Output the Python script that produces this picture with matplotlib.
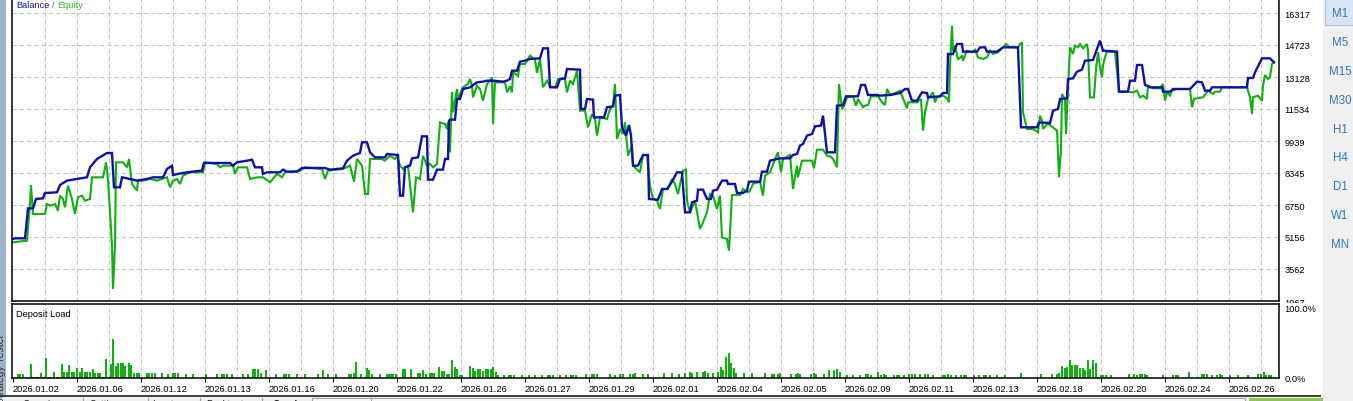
import matplotlib
matplotlib.use("Agg")
import matplotlib.pyplot as plt
from matplotlib.patches import Rectangle
from matplotlib.lines import Line2D

plt.rcParams['font.family'] = ['Liberation Sans', 'DejaVu Sans']

# ---------------- data ----------------
date_labels = ["2026.01.02", "2026.01.06", "2026.01.12", "2026.01.13", "2026.01.16",
               "2026.01.20", "2026.01.22", "2026.01.26", "2026.01.27", "2026.01.29",
               "2026.02.01", "2026.02.04", "2026.02.05", "2026.02.09", "2026.02.11",
               "2026.02.13", "2026.02.18", "2026.02.20", "2026.02.24", "2026.02.26"]
label_step = 64          # positions between two date labels
grid_step = 32           # positions between two vertical grid lines
n_positions = 1266

y_ticks = [1967, 3562, 5156, 6750, 8345, 9939, 11534, 13128, 14723, 16317]
y_top = 17015

balance_t = [0, 2, 12, 15, 20, 23, 30, 32, 44, 47, 54, 64, 74, 77, 84, 94, 99, 101, 107, 109,
             117, 124, 134, 140, 150, 154, 159, 160, 170, 179, 189, 191, 217, 220, 224, 234, 239,
             242, 249, 250, 254, 267, 270, 274, 284, 289, 312, 317, 330, 334, 340, 347, 349, 354,
             357, 362, 372, 374, 385, 387, 390, 392, 397, 399, 405, 409, 414, 415, 420, 424, 430,
             432, 435, 436,
             437, 442, 444, 447, 450, 457, 464, 470, 474, 480, 490, 494, 497, 499, 504, 507, 512,
             517, 527, 530, 535, 537, 544, 547, 552, 554, 567, 568, 572, 574, 580, 581, 591, 594,
             600, 602, 607, 609, 613, 616, 618, 620, 625, 630, 635, 636, 645, 649, 654, 659, 664,
             669, 672, 677, 679, 684, 685, 690, 694, 698, 700, 704, 709, 714, 715, 722, 724, 730,
             734, 736, 747, 749, 754, 757, 767, 777, 780, 784, 787, 790, 794, 799, 802, 808, 810,
             814, 822, 824, 830, 833, 845, 848, 852, 855, 864, 867, 877, 887,
             892, 895, 899, 904, 909, 914, 915, 927, 930, 934, 935, 940, 944, 949, 950, 964, 967,
             972, 974, 984, 990, 1005, 1008, 1024, 1026, 1037, 1040, 1045, 1047, 1054, 1055, 1060,
             1064, 1069, 1072, 1080, 1084, 1087, 1090, 1104, 1106, 1115, 1117, 1122, 1124, 1129,
             1132, 1137, 1149, 1150, 1157, 1160, 1177, 1184, 1189, 1192, 1197, 1199, 1220, 1234,
             1235, 1240, 1242, 1249, 1257, 1261]
balance_v = [5057, 5090, 5090, 6585, 6585, 7050, 7083, 7349, 7382, 7748, 7964, 8047, 8130, 8628,
             9043, 9342, 9342, 7632, 7632, 8130, 8047, 7964, 8047, 8130, 8130, 8545, 8711, 8246,
             8346, 8412, 8462, 8844, 8844, 8711, 8877, 8960, 9010, 8628, 8628, 8296, 8379, 8379,
             8512, 8412, 8412, 8595, 8595, 8512, 8578, 8960, 9209, 9342, 9874, 9874, 9375, 9126,
             9126, 9292, 9242, 7216, 7216, 8628, 8711, 9076, 9126, 10172, 10172, 8013, 8013, 8512,
             8512, 9043, 9043, 10953,
             11003, 11003, 12033, 12033, 12531, 12614, 12863, 12896, 12946, 12946, 12896, 12946,
             13029, 13444, 13444, 13893, 13942, 14026, 14059, 14557, 14557, 12614, 12614, 13029,
             13062, 13527, 13494, 11534, 11534, 12033, 11999, 11119, 11119, 11617, 11667, 12199,
             12232, 10621, 10206, 10737, 10206, 8711, 8711, 9242, 9242, 7050, 7017, 7548, 7548,
             7914, 8379, 8379, 6386, 6386, 6884, 6967, 7515, 7515, 7050, 7050, 7465, 7515, 7964,
             7964, 7798, 7798, 7349, 7349, 7465, 7914, 7914, 8412, 8412, 8960, 9076, 9076, 9242,
             9292, 9708, 9790, 10206, 10289, 10671, 10704, 11202, 9375, 9375, 11700, 11733, 12166,
             12166, 12730, 12730, 12232, 12232, 12199, 12232, 12332,
             12531, 12531, 11950, 11950, 12365, 12332, 12116, 12166, 12332, 12332, 14275, 14275,
             14773, 14773, 14391, 14391, 14607, 14607, 14391, 14391, 14607, 14607, 10621, 10621,
             10870, 10837, 11451, 11534, 12033, 12066, 13029, 13062, 13394, 13494, 13942, 13976,
             14524, 14939, 14441, 14391, 12398, 12398, 12946, 12946, 13727, 13727, 12730, 12614,
             12614, 12398, 12398, 12531, 12531, 12896, 12863, 12448, 12448, 12614, 12614, 12614,
             13079, 13079, 13361, 14059, 14059, 13859]

equity_t = [0, 14, 17, 18, 19, 20, 32, 34, 37, 42, 45, 47, 50, 52, 55, 59, 62, 65, 69, 72, 77, 79,
            90, 93, 95, 99, 100, 102, 103, 110, 114, 116, 119, 124, 125, 130, 137, 144, 149, 154,
            157, 160, 164, 167, 170, 177, 190, 192, 204, 207, 210, 220, 222, 225, 234, 237, 244,
            250, 257, 264, 269, 272, 287, 292, 309, 312, 315, 330, 337, 341, 344, 349, 352, 355,
            357, 369, 372, 377, 382, 384, 387, 390, 392, 395, 400, 403, 407, 410, 414, 417, 420,
            424, 427, 432, 434, 435, 437,
            439, 440, 444, 445, 450, 455, 457, 459, 460, 464, 467, 470, 474, 477, 479, 480, 482,
            492, 494, 497, 499, 500, 505, 507, 512, 514, 517, 522, 524, 527, 530, 534, 537, 542,
            545, 552, 554, 557, 560, 564, 567, 572, 575, 579, 582, 584, 587, 594, 597, 600, 602,
            604, 607, 610, 612, 615, 619, 620, 627, 630, 634, 637, 640, 644, 647, 650, 655, 659,
            662, 665, 670, 673, 674, 677, 682, 685, 687, 690, 694, 697, 700, 704, 707, 709, 714,
            716, 719, 727, 730, 735, 737, 740, 747, 750, 752, 757, 762, 765, 768, 770, 777, 780,
            784, 785, 789, 799, 801, 804, 810, 814, 817, 820, 824, 826, 829, 831, 834, 840, 843,
            845, 850, 852, 855, 858, 865, 869, 872, 874, 877, 884, 887,
            894, 895, 904, 908, 910, 912, 915, 920, 922, 924, 930, 934, 936, 937, 939, 940, 942,
            945, 949, 950, 954, 959, 962, 965, 970, 974, 977, 980, 985, 990, 993, 997, 1005, 1007,
            1009, 1010, 1014, 1020, 1025, 1027, 1029, 1030, 1034, 1037, 1042, 1044, 1045, 1046,
            1048, 1049, 1052, 1053, 1055, 1057, 1060, 1062, 1065, 1067, 1070, 1074, 1075, 1077,
            1081, 1083, 1085, 1087, 1089, 1090, 1092, 1094, 1102, 1106, 1114, 1120, 1124, 1127,
            1130, 1134, 1135, 1140, 1147, 1150, 1152, 1154, 1157, 1159, 1164, 1177, 1179, 1181,
            1184, 1190, 1195, 1200, 1202, 1207, 1209, 1220, 1234, 1237, 1239, 1240, 1245, 1249,
            1250, 1252, 1255, 1257, 1259, 1261]
equity_v = [4891, 4974, 6801, 7748, 7050, 6303, 6303, 6801, 6718, 6801, 6469, 7216, 7050, 6635,
            7715, 7050, 6303, 7133, 7216, 6967, 7050, 8130, 8130, 8877, 8047, 4725, 2566, 4725,
            8877, 8877, 8628, 9043, 7798, 7465, 7964, 7964, 8047, 7964, 8047, 8130, 7632, 7964,
            8047, 7798, 8213, 8379, 8379, 8877, 8794, 8628, 8711, 8711, 8296, 8628, 8628, 8047,
            8130, 8130, 7881, 8296, 8130, 8379, 8462, 8628, 8545, 8047, 8462, 8545, 8711, 7914,
            9043, 8711, 7299, 7299, 9043, 9043, 8960, 9209, 9043, 9209, 8711, 8545, 8628, 8711,
            6386, 8130, 8047, 9209, 8711, 8794, 8628, 8794, 10870, 10787, 10538, 10870, 9375,
            12365, 11368, 12531, 12033, 12614, 12780, 13029, 12697, 12116, 12697, 12531, 11950,
            12780, 12946, 13112, 10787, 12863, 12863, 12365, 12664, 12365, 13361, 13195, 13776,
            13776, 13942, 14192, 13992, 13328, 14026, 12614, 12946, 12664, 12614, 13029, 13029,
            12365, 12946, 12780, 13444, 11451, 11451, 10621, 11285, 11036, 10206, 11119, 11036,
            11534, 11700, 12780, 10040, 10538, 10289, 10870, 9209, 9708, 8711, 8379, 9242, 9242,
            7715, 7050, 6967, 6552, 7548, 7548, 8047, 7798, 7299, 8462, 8512, 6967, 6386, 6967,
            6137, 5555, 5888, 6386, 7299, 7216, 6552, 7216, 5140, 5057, 4476, 7249, 7249, 7548,
            7382, 7465, 7798, 7914, 7216, 8213, 8379, 9043, 9375, 8379, 9043, 9242, 7548, 8711,
            8130, 8960, 8960, 8578, 9508, 9508, 9209, 9176, 9043, 8628, 12780, 11534, 11667,
            12116, 12166, 11700, 12033, 11617, 11700, 11733, 12166, 12166, 11866, 11733, 12531,
            12232, 12365, 12448,
            11567, 11866, 11866, 12033, 10455, 11368, 12033, 12365, 11866, 12116, 12199, 12066,
            11866, 13694, 15686, 14441, 14690, 13992, 14192, 13942, 14441, 14358, 14491, 14109,
            14026, 14109, 14441, 14275, 14358, 14607, 14773, 14607, 14607, 14773, 14856, 11368,
            10538, 10538, 10372, 11202, 10953, 10538, 10787, 10737, 10538, 10455, 9375, 8130,
            9541, 12282, 12033, 10289, 12614, 14607, 14275, 14690, 14607, 14773, 14557, 14773,
            14441, 12116, 12116, 13527, 14358, 13610, 13112, 13694, 14109, 14391, 14391, 12398,
            12398, 12365, 12448, 12116, 12199, 12033, 12697, 12564, 12564, 12780, 11950, 12365,
            12199, 12448, 12531, 12531, 11617, 12033, 12066, 12116, 12448, 12282, 12398, 12398,
            12614, 12614, 12614, 12116, 11285, 12116, 12199, 11950, 12697, 13229, 13029, 13112,
            13776, 13859]

load_t = [5, 7, 10, 18, 20, 23, 25, 28, 31, 33, 36, 38, 41, 44, 46, 49, 51, 54, 56, 59, 61, 64,
          67, 69, 72, 74, 77, 80, 82, 85, 87, 90, 93, 96, 98, 100, 103, 105, 108, 110, 112, 116,
          118, 121, 124, 126, 134, 136, 139, 142, 149, 155, 160, 162, 165, 173, 180, 193, 204,
          209, 211, 214, 219, 230, 235, 240, 242, 245, 248, 253, 263, 271, 273, 276, 284, 292,
          305, 310, 315, 323, 336, 338, 341, 343, 348, 354, 356, 359, 367, 374, 376, 378, 380,
          383, 390, 392, 398, 405, 407, 410, 413, 417, 419, 421,
          426, 429, 431, 434, 436, 439, 442, 444, 447, 449, 457, 460, 462, 465, 467, 470, 473,
          475, 478, 480, 483, 485, 491, 496, 498, 501, 509, 516, 522, 529, 535, 537, 540, 547,
          553, 558, 560, 563, 573, 579, 581, 584, 597, 602, 607, 610, 617, 620, 622, 630, 635,
          651, 659, 666, 672, 677, 679, 684, 690, 692, 695, 700, 705, 708, 710, 713, 716, 718,
          721, 723, 731, 739, 752, 759, 761, 765, 767, 778, 783, 785, 787, 798, 801, 803, 811,
          816, 821, 824, 827, 834, 840,
          847, 853, 855, 858, 865, 868, 871, 873, 881, 884, 886, 891, 896, 899, 902, 907, 912,
          915, 920, 930, 932, 935, 938, 943, 948, 951, 953, 961, 966, 971, 973, 977, 984, 992,
          1008, 1028, 1039, 1044, 1046, 1049, 1052, 1054, 1057, 1059, 1062, 1064, 1067, 1070,
          1072, 1075, 1077, 1080, 1083, 1088, 1090, 1093, 1098, 1116, 1121, 1124, 1127, 1129,
          1132, 1134, 1150, 1160, 1163, 1165, 1176, 1189, 1191, 1194, 1199, 1204, 1207, 1209,
          1217, 1225, 1235, 1245, 1248, 1251, 1253, 1256, 1258]
load_pct = [6, 6, 6, 20, 1, 1, 1, 7, 1, 29, 1, 1, 9, 1, 1, 20, 9, 9, 19, 9, 9, 14, 9, 14, 9, 9,
            9, 13, 7, 7, 7, 1, 27, 1, 20, 56, 17, 21, 21, 21, 17, 21, 19, 7, 7, 7, 7, 7, 7, 7, 7,
            6, 7, 7, 7, 6, 6, 6, 6, 6, 6, 6, 6, 6, 6, 13, 13, 13, 7, 11, 6, 6, 6, 6, 6, 6, 6, 11,
            6, 6, 6, 6, 7, 23, 6, 14, 11, 6, 6, 6, 6, 6, 6, 6, 13, 13, 13, 7, 7, 11, 6, 7, 7, 7,
            16, 10, 10, 6, 6, 26, 16, 13, 4, 4, 17, 14, 10, 13, 13, 10, 13, 13, 13, 16, 9, 4, 4,
            4, 4, 4, 4, 4, 4, 4, 4, 4, 4, 4, 4, 4, 4, 4, 6, 6, 6, 6, 6, 4, 6, 6, 6, 6, 7, 6, 6,
            7, 7, 6, 7, 9, 7, 9, 9, 10, 7, 7, 9, 16, 11, 30, 36, 21, 14, 7, 7, 7, 7, 6, 6, 6, 7,
            6, 6, 7, 6, 6, 7, 6, 6, 11, 11, 13, 9, 4, 4,
            4, 6, 6, 4, 9, 4, 6, 4, 4, 4, 4, 4, 6, 6, 6, 6, 6, 6, 4, 4, 4, 6, 4, 4, 4, 4, 4, 4,
            4, 4, 4, 4, 4, 4, 7, 6, 6, 6, 7, 17, 14, 16, 26, 19, 19, 19, 14, 14, 11, 26, 13, 26,
            21, 4, 4, 4, 4, 6, 6, 4, 6, 6, 6, 4, 4, 4, 4, 4, 9, 6, 6, 6, 4, 4, 6, 4, 4, 4, 4, 6,
            6, 9, 4, 4, 4]

# ---------------- styling ----------------
W, H = 1353, 402
BLUE = '#0f0fae'
GREEN = '#10b010'
GRID = '#c4c4c4'
FS = 6.7

fig = plt.figure(figsize=(W / 100, H / 100), dpi=100)
fig.patch.set_facecolor('white')


def fx(x):
    return x / W


def fy(y):
    return 1 - y / H


ax = fig.add_axes([fx(12), fy(302), (1279 - 12) / W, 302 / H])
axd = fig.add_axes([fx(12), fy(379), (1279 - 12) / W, 74 / H])
axd.set_zorder(3)

grid_kw = dict(color=GRID, lw=0.75, linestyle=(0, (4, 3)), zorder=0.5)

# main panel
ax.set_xlim(-1, n_positions)
ax.set_ylim(y_ticks[0], y_top)
for k in range(1, n_positions // grid_step + 1):
    ax.axvline(k * grid_step, **grid_kw)
    axd.axvline(k * grid_step, **grid_kw)
for v in y_ticks[1:]:
    ax.axhline(v, **grid_kw)

ax.plot(equity_t, equity_v, color=GREEN, lw=1.5, zorder=2, solid_joinstyle='miter')
ax.plot(balance_t, balance_v, color=BLUE, lw=1.7, zorder=3, solid_joinstyle='miter')

ax.yaxis.tick_right()
ax.set_yticks(y_ticks)
ax.set_yticklabels([str(v) for v in y_ticks])
ax.tick_params(axis='y', length=0, pad=4, labelsize=FS, colors='black')
ax.set_xticks([])
ax.spines['top'].set_visible(False)
for s in ('left', 'right', 'bottom'):
    ax.spines[s].set_color('black')
    ax.spines[s].set_linewidth(1.1)

# deposit load panel
axd.set_xlim(-1, n_positions)
axd.set_ylim(0, 105.7)
axd.bar(load_t, load_pct, width=2, color=GREEN, linewidth=0, zorder=2)
axd.yaxis.tick_right()
axd.set_yticks([0, 100])
axd.set_yticklabels(['0.0%', '100.0%'])
axd.tick_params(axis='y', length=0, pad=4, labelsize=FS, colors='black')
axd.set_xticks([i * label_step for i in range(len(date_labels))])
axd.set_xticklabels(date_labels, ha='left')
axd.tick_params(axis='x', length=3, width=0.8, pad=1.5, labelsize=FS, colors='black')
for s in axd.spines.values():
    s.set_color('black')
    s.set_linewidth(1.1)
axd.text(0.003, 0.87, 'Deposit Load', transform=axd.transAxes, fontsize=FS,
         ha='left', va='center', color='black')

# titles of main panel
fig.text(fx(16), fy(6), 'Balance', color='#1a1ab8', fontsize=FS, ha='left', va='center')
fig.text(fx(51.5), fy(6), '/', color='#707070', fontsize=FS, ha='left', va='center')
fig.text(fx(57), fy(6), 'Equity', color='#22c022', fontsize=FS, ha='left', va='center')

# cover for the cut "1967" label region
fig.add_artist(Rectangle((fx(1280), fy(396)), (1322 - 1280) / W, (396 - 304) / H,
                         transform=fig.transFigure, facecolor='white', edgecolor='none',
                         zorder=1))

# right timeframe panel
fig.add_artist(Rectangle((fx(1323), 0), (W - 1323) / W, 1, transform=fig.transFigure,
                         facecolor='#f0f0f0', edgecolor='none', zorder=4))
fig.add_artist(Rectangle((fx(1325), fy(26)), (W - 1325) / W, 26 / H, transform=fig.transFigure,
                         facecolor='#dbe6f4', edgecolor='#a8c0de', lw=0.8, zorder=5))
tf_labels = ['M1', 'M5', 'M15', 'M30', 'H1', 'H4', 'D1', 'W1', 'MN']
for i, lab in enumerate(tf_labels):
    fig.text(fx(1340), fy(14 + i * 28.9), lab, color='#2f78b8', fontsize=8.3,
             ha='center', va='center', zorder=6)

# left strip
fig.add_artist(Rectangle((0, 0), fx(6), 1, transform=fig.transFigure,
                         facecolor='#9fb4cc', edgecolor='none', zorder=4))
fig.text(fx(1.5), fy(334), 'Strategy Tester', rotation=90, fontsize=7.5, color='#303030',
         ha='center', va='top', zorder=5)

# bottom tab strip
fig.add_artist(Rectangle((0, 0), fx(1323), (402 - 396) / H, transform=fig.transFigure,
                         facecolor='#f0f0f0', edgecolor='none', zorder=4))
fig.add_artist(Line2D([0, fx(1320)], [fy(396.5), fy(396.5)], transform=fig.transFigure,
                      color='#303030', lw=1.3, zorder=5))
fig.add_artist(Rectangle((fx(312), 0), (1245 - 312) / W, (402 - 398.5) / H,
                         transform=fig.transFigure, facecolor='white', edgecolor='#a0a0a0',
                         lw=0.8, zorder=5))
for xv in (83, 148, 200, 262, 371):
    fig.add_artist(Line2D([fx(xv), fx(xv)], [0, fy(398.5)], transform=fig.transFigure,
                          color='#a0a0a0', lw=0.8, zorder=6))
fig.add_artist(Rectangle((fx(1249), 0), (1323 - 1249) / W, (402 - 398.5) / H,
                         transform=fig.transFigure, facecolor='#8cc555', edgecolor='none',
                         zorder=6))
for xv, lab, wt in ((22, 'Overview', 'normal'), (90, 'Settings', 'normal'),
                    (152, 'Inputs', 'normal'), (206, 'Backtest', 'normal'),
                    (273, 'Graph', 'bold')):
    fig.text(fx(xv), fy(405.5), lab, fontsize=7, color='#202020', ha='left', va='center',
             weight=wt, zorder=7)

fig.savefig('out.png', dpi=100)
